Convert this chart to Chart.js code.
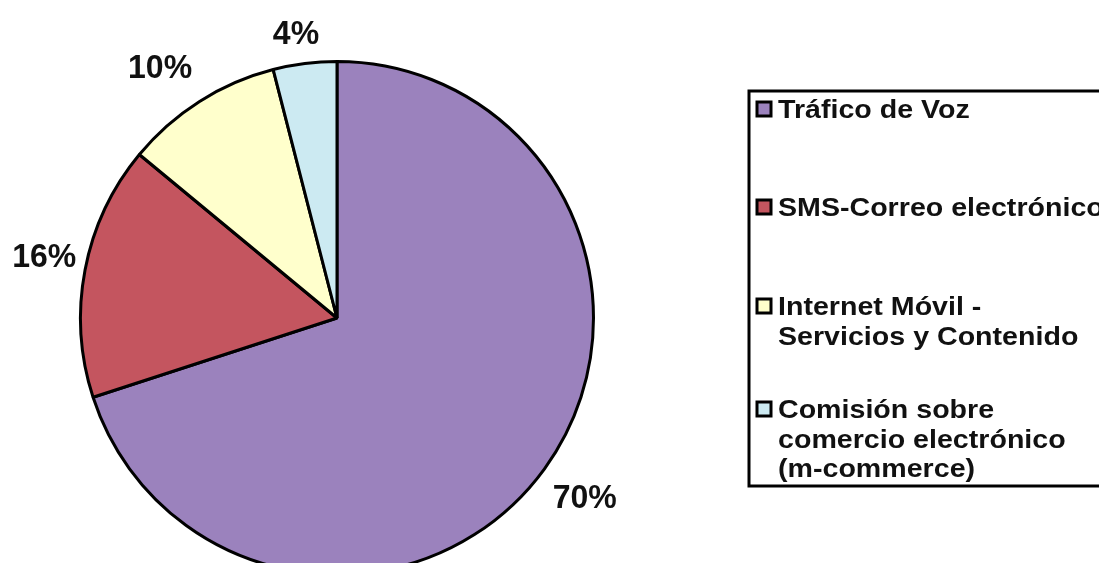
<!DOCTYPE html>
<html>
<head>
<meta charset="utf-8">
<script src="https://cdn.jsdelivr.net/npm/chart.js@4/dist/chart.umd.min.js"></script>
<style>
  html, body { margin: 0; padding: 0; background: #fff; overflow: hidden; }
  #wrap { width: 1099px; height: 600px; }
</style>
</head>
<body>
<div id="wrap"><canvas id="myChart" width="1099" height="600"></canvas></div>
<script>
// Chart data
const categories = ['Tráfico de Voz', 'SMS-Correo electrónico', 'Internet Móvil - Servicios y Contenido', 'Comisión sobre comercio electrónico (m-commerce)'];
const legendLines = [
    ['Tráfico de Voz'],
    ['SMS-Correo electrónico'],
    ['Internet Móvil -', 'Servicios y Contenido'],
    ['Comisión sobre', 'comercio electrónico', '(m-commerce)']
];
const shares = [70, 16, 10, 4];
const sliceColors = ['#9b82bd', '#c4555f', '#ffffcc', '#cceaf2'];

// Percent labels outside each slice
const pctLabels = {
    id: 'pctLabels',
    afterDatasetsDraw(chart) {
        const ctx = chart.ctx;
        const meta = chart.getDatasetMeta(0);
        // small hand nudges so labels sit where the original has them
        const nudge = [[0, 0], [9, -4], [-16, 3], [-5, 1]];
        ctx.save();
        ctx.font = 'bold 33px "Liberation Sans", Arial, sans-serif';
        ctx.fillStyle = '#111';
        ctx.textAlign = 'center';
        ctx.textBaseline = 'middle';
        meta.data.forEach((arc, i) => {
            const p = arc.getProps(['x', 'y', 'startAngle', 'endAngle', 'outerRadius'], true);
            const mid = (p.startAngle + p.endAngle) / 2;
            const ux = Math.cos(mid), uy = Math.sin(mid);
            const text = shares[i] + '%';
            const w = ctx.measureText(text).width;
            const h = 24;
            const dist = p.outerRadius + Math.abs(ux) * w / 2 + Math.abs(uy) * h / 2 + 16;
            const x = p.x + ux * dist + nudge[i][0];
            const y = p.y + uy * dist + 1 + nudge[i][1];
            ctx.save();
            ctx.translate(x, y);
            ctx.scale(0.97, 1);
            ctx.fillText(text, 0, 0);
            ctx.restore();
        });
        ctx.restore();
    }
};

// Boxed legend on the right
const boxLegend = {
    id: 'boxLegend',
    afterDraw(chart) {
        const ctx = chart.ctx;
        ctx.save();
        ctx.lineWidth = 3;
        ctx.strokeStyle = '#000';
        ctx.strokeRect(749, 91, 420, 395);

        const rowBase = [118, 216, 315, 418];
        const lineGap = 29.5;
        ctx.font = 'bold 26px "Liberation Sans", Arial, sans-serif';
        ctx.textAlign = 'left';
        ctx.textBaseline = 'alphabetic';
        legendLines.forEach((lines, i) => {
            const base = rowBase[i];
            // marker
            ctx.fillStyle = sliceColors[i];
            ctx.fillRect(757, base - 16, 14, 14);
            ctx.lineWidth = 3;
            ctx.strokeStyle = '#000';
            ctx.strokeRect(757, base - 16, 14, 14);
            ctx.fillStyle = '#111';
            lines.forEach((line, j) => {
                ctx.save();
                ctx.translate(778, base + j * lineGap);
                ctx.scale(1.1, 1);
                ctx.fillText(line, 0, 0);
                ctx.restore();
            });
        });
        ctx.restore();
    }
};

const myChart = document.getElementById('myChart');

let pieChart = new Chart(myChart, {
    type: 'pie',
    data: {
        labels: categories,
        datasets: [{
            data: shares,
            backgroundColor: sliceColors,
            borderColor: '#000',
            borderWidth: 3,
            hoverOffset: 0
        }]
    },
    options: {
        responsive: false,
        animation: false,
        devicePixelRatio: 1,
        layout: {
            padding: { left: 79, right: 504, top: 60, bottom: 24 }
        },
        plugins: {
            legend: { display: false },
            tooltip: { enabled: false }
        }
    },
    plugins: [pctLabels, boxLegend]
});
</script>
</body>
</html>
